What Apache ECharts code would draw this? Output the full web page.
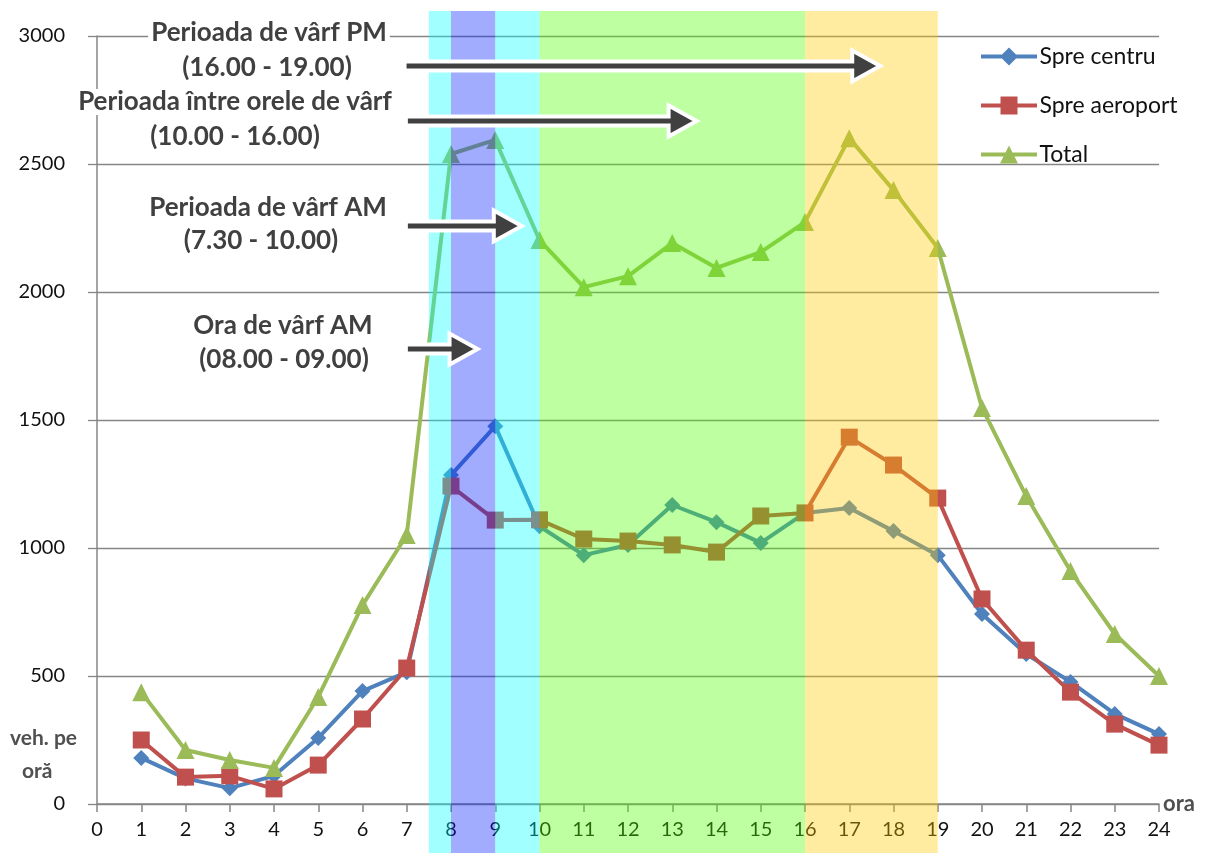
<!DOCTYPE html>
<html><head><meta charset="utf-8">
<script src="https://cdn.jsdelivr.net/npm/echarts@6/dist/echarts.min.js"></script>
<style>html,body{margin:0;padding:0;background:#fff}#c{width:1210px;height:853px}</style>
</head><body><div id="c"></div>
<script>
const hours = [1,2,3,4,5,6,7,8,9,10,11,12,13,14,15,16,17,18,19,20,21,22,23,24];
const spreCentru = [180,100,62,110,258,441,515,1285,1476,1085,972,1012,1168,1101,1020,1137,1156,1066,972,742,586,477,352,273];
const spreAeroport = [250,105,110,59,152,332,531,1242,1109,1110,1035,1027,1012,984,1125,1137,1433,1324,1195,801,601,437,312,230];
const total = [437,211,172,141,418,777,1051,2539,2594,2203,2019,2062,2191,2094,2156,2273,2601,2398,2172,1547,1203,910,664,500];
const seriesNames = ['Spre centru','Spre aeroport','Total'];
// hour ranges of shaded periods
const bandRanges = [[7.5,8],[8,9],[9,10],[10,16],[16,19]];
const bandColors = ['rgba(0,255,255,0.37)','rgba(0,30,255,0.37)','rgba(0,255,255,0.37)','rgba(76,255,0,0.37)','rgba(255,204,0,0.37)'];
// annotation arrows: [startHour, tipHour, value level]
const arrows = [[6.95,17.7,2883],[6.98,13.55,2668],[6.98,9.6,2258],[6.98,8.6,1777]];
const annoLines = [
  ['Perioada de vârf PM',269,33],
  ['(16.00 - 19.00)',267,68],
  ['Perioada între orele de vârf',235,102],
  ['(10.00 - 16.00)',235,137],
  ['Perioada de vârf AM',268,208],
  ['(7.30 - 10.00)',261,241],
  ['Ora de vârf AM',283,326],
  ['(08.00 - 09.00)',284,360]
];
const FONT = 'Lato, "Open Sans", sans-serif';
const seriesColors = ['#4F81BD','#C0504D','#9BBB59'];
const legendIcons = [
  'path://M0,7L21,7L28,0L35,7L56,7L56,11L35,11L28,18L21,11L0,11Z',
  'path://M0,7L19.5,7L19.5,0L36.5,0L36.5,7L56,7L56,11L36.5,11L36.5,18L19.5,18L19.5,11L0,11Z',
  'path://M0,7L24.5,7L28,0L31.5,7L56,7L56,11L33.5,11L37,18L19,18L22.5,11L0,11Z'
];
const chart = echarts.init(document.getElementById('c'));
const mk = arr => hours.map((h,i)=>[h,arr[i]]);
chart.setOption({
  animation:false,
  textStyle:{fontFamily:FONT},
  grid:{left:97,right:51,top:36,bottom:49},
  legend:{
    orient:'vertical', left:976, top:40, itemWidth:57, itemHeight:18, itemGap:26,
    textStyle:{fontSize:23,color:'#111',fontFamily:FONT,padding:[0,0,0,-3]},
    data:seriesNames.map((n,i)=>({name:n,icon:legendIcons[i]}))
  },
  xAxis:{
    type:'value',min:0,max:24,interval:1,
    axisLine:{lineStyle:{color:'#868686',width:1.5}},
    axisTick:{show:true,length:8,lineStyle:{color:'#868686',width:1.5}},
    axisLabel:{fontSize:20,color:'#111',margin:16,fontFamily:FONT},
    splitLine:{show:false},
    name:'ora',nameLocation:'end',nameGap:4,
    nameTextStyle:{fontWeight:'bold',fontSize:22,color:'#505050',fontFamily:FONT,verticalAlign:'middle'}
  },
  yAxis:{
    type:'value',min:0,max:3000,interval:500,
    axisLine:{show:true,lineStyle:{color:'#868686',width:1.5}},
    axisTick:{show:true,length:9,lineStyle:{color:'#868686',width:1.3}},
    axisLabel:{fontSize:20,color:'#111',margin:32,fontFamily:FONT,formatter:v=>String(v)},
    splitLine:{lineStyle:{color:'#868686',width:1.3}}
  },
  series:[
    {name:seriesNames[0],type:'line',data:mk(spreCentru),symbol:'diamond',symbolSize:16,
     itemStyle:{color:seriesColors[0]},lineStyle:{width:4,color:seriesColors[0]}},
    {name:seriesNames[1],type:'line',data:mk(spreAeroport),symbol:'rect',symbolSize:17,
     itemStyle:{color:seriesColors[1]},lineStyle:{width:4,color:seriesColors[1]}},
    {name:seriesNames[2],type:'line',data:mk(total),symbol:'triangle',symbolSize:18,
     itemStyle:{color:seriesColors[2]},lineStyle:{width:4,color:seriesColors[2]}}
  ]
});
const g = [];
const top0 = chart.convertToPixel({gridIndex:0},[0,3000])[1] - 25;
const H = chart.getHeight();
bandRanges.forEach((r,i)=>{
  const x0 = chart.convertToPixel({gridIndex:0},[r[0],0])[0];
  const x1 = chart.convertToPixel({gridIndex:0},[r[1],0])[0];
  g.push({type:'rect',z:50,silent:true,shape:{x:x0,y:top0,width:x1-x0,height:H-top0},style:{fill:bandColors[i]}});
});
annoLines.forEach(a=>{
  g.push({type:'text',z:60,x:a[1],y:a[2],style:{text:a[0],fill:'#404040',font:'bold 26px '+FONT,
    align:'center',verticalAlign:'middle',backgroundColor:'#fff',padding:[0,3]}});
});
arrows.forEach(a=>{
  const p0 = chart.convertToPixel({gridIndex:0},[a[0],a[2]]);
  const p1 = chart.convertToPixel({gridIndex:0},[a[1],a[2]]);
  const y = p0[1], x0 = p0[0], xt = p1[0], xb = xt-28, sw = 4.5, hh = 15.5;
  g.push({type:'polygon',z:70,shape:{points:[[x0,y-sw],[xb,y-sw],[xb,y-hh],[xt,y],[xb,y+hh],[xb,y+sw],[x0,y+sw]]},
    style:{fill:'#404040',stroke:'#fff',lineWidth:4,lineJoin:'miter'}});
});
g.push({type:'text',z:60,left:10,top:728,style:{text:'veh. pe',fill:'#505050',font:'bold 21px '+FONT}});
g.push({type:'text',z:60,left:22,top:761,style:{text:'oră',fill:'#505050',font:'bold 21px '+FONT}});
chart.setOption({graphic:g});
</script></body></html>
